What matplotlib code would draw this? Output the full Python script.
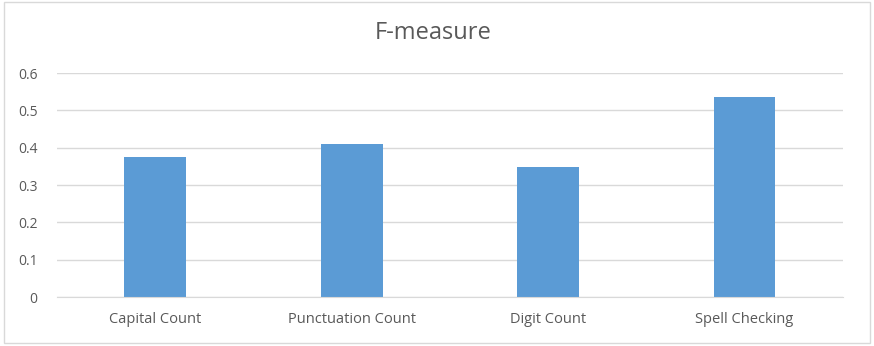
import matplotlib.pyplot as plt
from matplotlib.patches import Rectangle

# values
categories = ["Capital Count", "Punctuation Count", "Digit Count", "Spell Checking"]
fmeasure = [0.374, 0.411, 0.348, 0.536]
yticks = [0, 0.1, 0.2, 0.3, 0.4, 0.5, 0.6]
ytickLabels = ["0", "0.1", "0.2", "0.3", "0.4", "0.5", "0.6"]

plt.rcParams['font.family'] = ['Open Sans', 'DejaVu Sans']
textColor = "#595959"

fig = plt.figure(figsize=(8.74, 3.46), dpi=100)
ax = fig.add_axes([0.0652, 0.1416, 0.899, 0.647])

ax.bar(range(len(categories)), fmeasure, width=0.315, color="#5B9BD5", zorder=3)

ax.set_xlim(-0.5, len(categories) - 0.5)
ax.set_ylim(0, 0.6)
ax.set_yticks(yticks)
ax.set_yticklabels(ytickLabels)
ax.set_xticks(range(len(categories)))
ax.set_xticklabels(categories)
ax.tick_params(axis="both", length=0, colors=textColor)
ax.tick_params(axis="x", pad=11, labelsize=10.5)
ax.tick_params(axis="y", pad=14, labelsize=10)

ax.grid(axis="y", color="#D9D9D9", linewidth=1, zorder=0)
for side in ["top", "right", "left"]:
    ax.spines[side].set_visible(False)
ax.spines["bottom"].set_color("#D9D9D9")
ax.spines["bottom"].set_zorder(4)

fig.text(0.496, 0.905, "F-measure", ha="center", va="center", fontsize=17, color=textColor)

# thin border around the whole chart
fig.patches.append(Rectangle((0.005, 0.01), 0.99, 0.985, transform=fig.transFigure,
                             fill=False, edgecolor="#D9D9D9", linewidth=1))

fig.savefig("out.png", dpi=100)
